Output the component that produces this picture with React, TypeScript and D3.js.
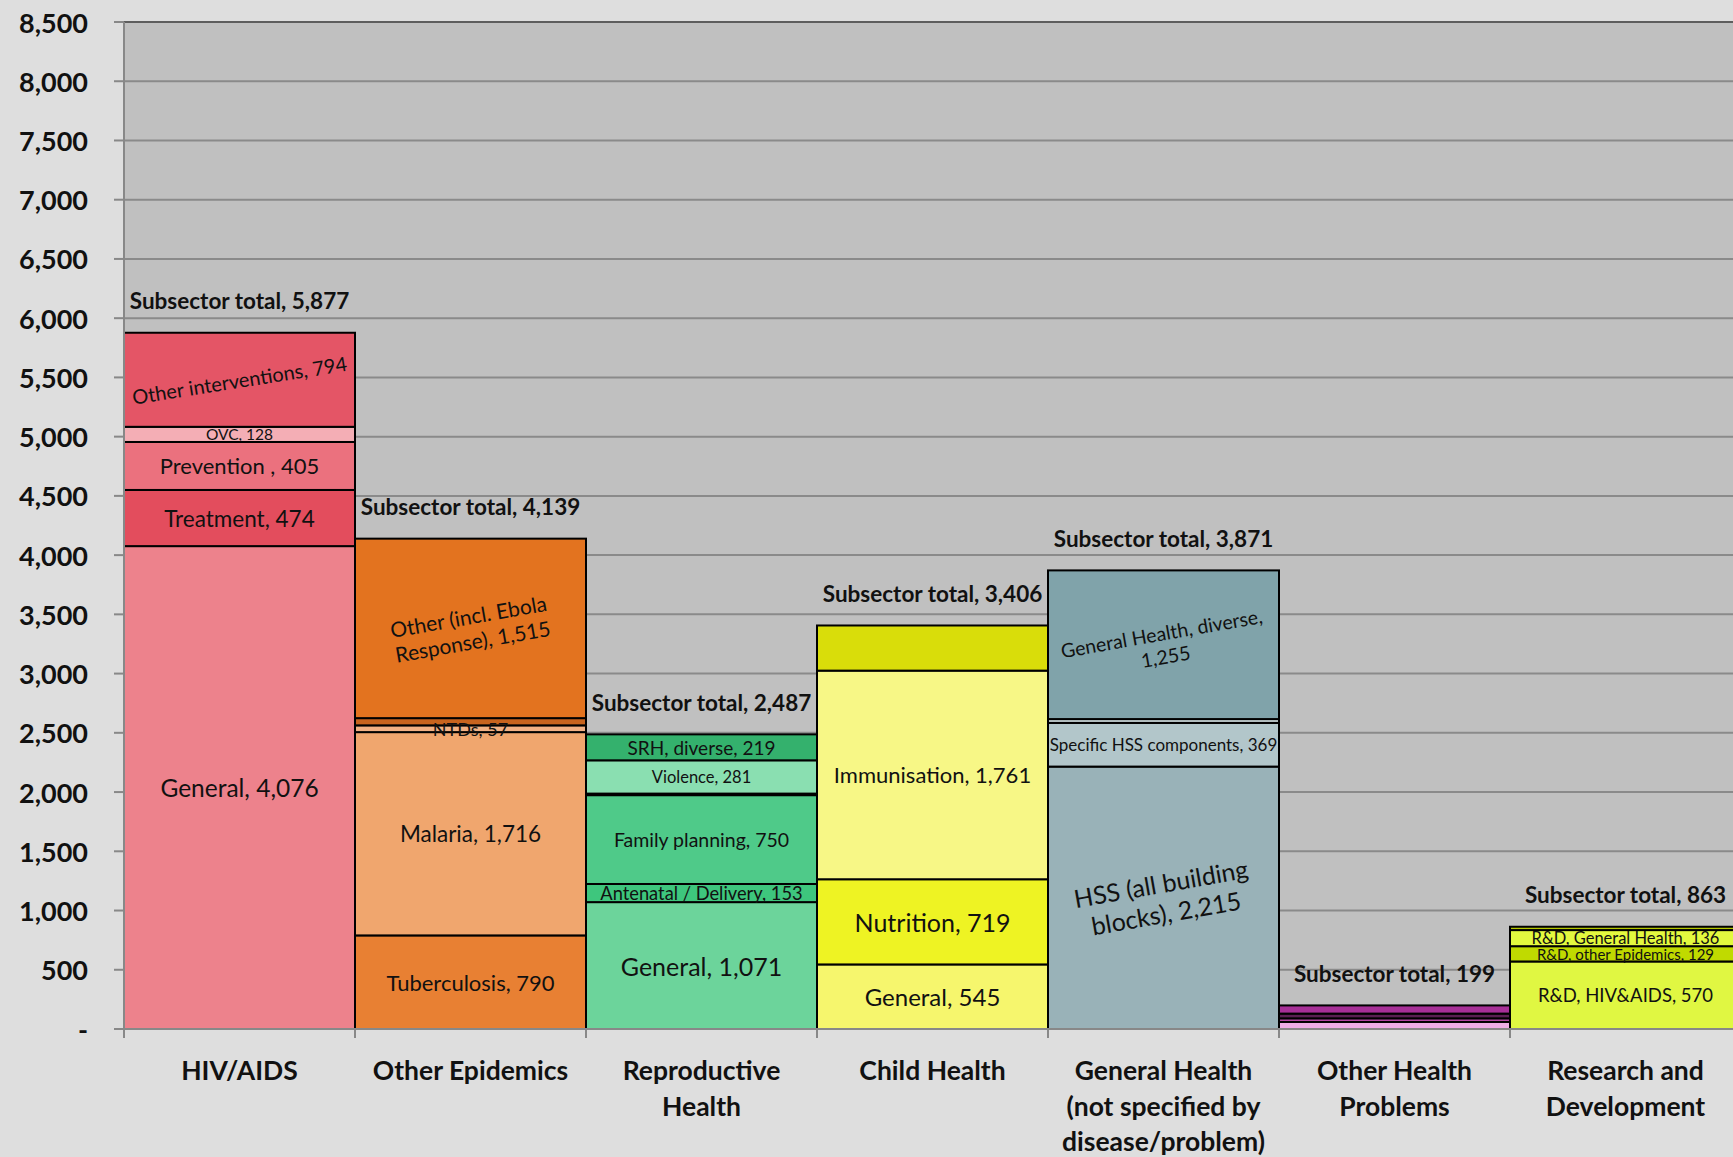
import React from 'react';
import * as d3 from 'd3';

// categories along the x axis
const categories = [
  'HIV/AIDS',
  'Other Epidemics',
  'Reproductive Health',
  'Child Health',
  'General Health (not specified by disease/problem)',
  'Other Health Problems',
  'Research and Development',
];
const categoryLines = [
  ['HIV/AIDS'],
  ['Other Epidemics'],
  ['Reproductive', 'Health'],
  ['Child Health'],
  ['General Health', '(not specified by', 'disease/problem)'],
  ['Other Health', 'Problems'],
  ['Research and', 'Development'],
];
const subsectorTotals = [5877, 4139, 2487, 3406, 3871, 199, 863];

const yTicks = [0, 500, 1000, 1500, 2000, 2500, 3000, 3500, 4000, 4500, 5000, 5500, 6000, 6500, 7000, 7500, 8000, 8500];

// segments per category, bottom to top
const hivValues = [4076, 474, 405, 128, 794];
const hivLabels = ['General, 4,076', 'Treatment, 474', 'Prevention , 405', 'OVC, 128', 'Other interventions, 794'];

const epiValues = [790, 1716, 57, 61, 1515];
const epiLabels = ['Tuberculosis, 790', 'Malaria, 1,716', 'NTDs, 57', '', 'Other (incl. Ebola\nResponse), 1,515'];

const rhValues = [1071, 153, 750, 13, 281, 219];
const rhLabels = ['General, 1,071', 'Antenatal / Delivery, 153', 'Family planning, 750', '', 'Violence, 281', 'SRH, diverse, 219'];

const chValues = [545, 719, 1761, 381];
const chLabels = ['General, 545', 'Nutrition, 719', 'Immunisation, 1,761', ''];

const ghValues = [2215, 369, 32, 1255];
const ghLabels = ['HSS (all building\nblocks), 2,215', 'Specific HSS components, 369', '', 'General Health, diverse,\n1,255'];

const ohpValues = [60, 30, 40, 69];
const ohpLabels = ['', '', '', ''];

const rdValues = [570, 129, 136, 28];
const rdLabels = ['R&D, HIV&AIDS, 570', 'R&D, other Epidemics, 129', 'R&D, General Health, 136', ''];

// colours, same order as the segments
const hivColors = ['#ed828c', '#e34d5d', '#eb717e', '#f4aeb5', '#e45566'];
const epiColors = ['#e88033', '#f0a66e', '#f2b184', '#c8641e', '#e3731f'];
const rhColors = ['#6cd49b', '#3ec67d', '#4fca89', '#2e9c5e', '#8adfb1', '#34b16d'];
const chColors = ['#f6f66d', '#eef323', '#f7f786', '#d9dd0a'];
const ghColors = ['#99b2b8', '#b2c6ca', '#cbd9db', '#80a3aa'];
const ohpColors = ['#eeaee6', '#c64fb5', '#5a1f52', '#a72f97'];
const rdColors = ['#e0f742', '#c0da00', '#e3f93f', '#b5c800'];

// label font size and rotation
const hivFont = [[24.5, 0], [22.5, 0], [22, 0], [15.5, 0], [20, -9]];
const epiFont = [[22, 0], [22.5, 0], [18, 0], [0, 0], [21, -10]];
const rhFont = [[25, 0], [18.3, 0], [19.5, 0], [0, 0], [16.5, 0], [19, 0]];
const chFont = [[24, 0], [25, 0], [22, 0], [0, 0]];
const ghFont = [[25, -10], [17, 0], [0, 0], [19.5, -10]];
const ohpFont = [[0, 0], [0, 0], [0, 0], [0, 0]];
const rdFont = [[18.5, 0], [15, 0], [16.5, 0], [0, 0]];

const groups = [
  { values: hivValues, labels: hivLabels, colors: hivColors, font: hivFont },
  { values: epiValues, labels: epiLabels, colors: epiColors, font: epiFont },
  { values: rhValues, labels: rhLabels, colors: rhColors, font: rhFont },
  { values: chValues, labels: chLabels, colors: chColors, font: chFont },
  { values: ghValues, labels: ghLabels, colors: ghColors, font: ghFont },
  { values: ohpValues, labels: ohpLabels, colors: ohpColors, font: ohpFont },
  { values: rdValues, labels: rdLabels, colors: rdColors, font: rdFont },
];

const width = 1733;
const height = 1157;
const plotLeft = 124;
const plotTop = 22;
const plotBottom = 1029;
const fontFamily = "Lato, Calibri, 'Open Sans', sans-serif";

const App = () => {
  const y = d3.scaleLinear().domain([0, 8500]).range([plotBottom, plotTop]);
  const x = d3.scaleBand().domain(categories).range([plotLeft, plotLeft + 7 * 231]).padding(0);
  const fmt = d3.format(',');
  const plotRight = x.range()[1];

  return (
    <div style={{ position: 'absolute', left: 0, top: 0 }}>
      <svg width={width} height={height} style={{ display: 'block', background: '#dedede' }} fontFamily={fontFamily}>
        <rect x={plotLeft} y={plotTop} width={plotRight - plotLeft} height={plotBottom - plotTop} fill="#c0c0c0" />

        {/* gridlines */}
        {yTicks.filter(t => t > 0).map(t => (
          <line key={'g' + t} x1={plotLeft} x2={plotRight} y1={y(t)} y2={y(t)}
            stroke={t === 8500 ? '#5e5e5e' : '#8a8a8a'} strokeWidth={2} />
        ))}

        {/* stacked bars */}
        {groups.map((g, ci) => {
          const cat = categories[ci];
          const ends = Array.from(d3.cumsum(g.values));
          const x0 = x(cat);
          const bw = x.bandwidth();
          return (
            <g key={cat}>
              {g.values.map((v, i) => {
                const start = i === 0 ? 0 : ends[i - 1];
                return (
                  <rect key={i} x={x0} width={bw} y={y(ends[i])} height={y(start) - y(ends[i])}
                    fill={g.colors[i]} stroke="#000" strokeWidth={2} />
                );
              })}
            </g>
          );
        })}

        {/* segment labels */}
        {groups.map((g, ci) => {
          const cat = categories[ci];
          const ends = Array.from(d3.cumsum(g.values));
          const cx = x(cat) + x.bandwidth() / 2;
          return (
            <g key={'l' + cat}>
              {g.labels.map((lab, i) => {
                if (!lab) return null;
                const start = i === 0 ? 0 : ends[i - 1];
                const cy = y((start + ends[i]) / 2);
                const [size, rot] = g.font[i];
                const lines = lab.split('\n');
                const lh = size * 1.2;
                return (
                  <text key={i} transform={`translate(${cx},${cy}) rotate(${rot})`} textAnchor="middle"
                    fontSize={size} fill="#111">
                    {lines.map((ln, k) => (
                      <tspan key={k} x={0} y={(k - (lines.length - 1) / 2) * lh} dominantBaseline="central">{ln}</tspan>
                    ))}
                  </text>
                );
              })}
            </g>
          );
        })}

        {/* subsector totals */}
        {subsectorTotals.map((t, ci) => (
          <text key={'t' + ci} x={x(categories[ci]) + x.bandwidth() / 2} y={y(t) - 32}
            textAnchor="middle" dominantBaseline="central" fontWeight="bold" fontSize={22.5} fill="#111">
            {`Subsector total, ${fmt(t)}`}
          </text>
        ))}

        {/* y axis */}
        <line x1={plotLeft} x2={plotLeft} y1={plotTop} y2={plotBottom} stroke="#888" strokeWidth={2} />
        {yTicks.map(t => (
          <g key={'y' + t}>
            <line x1={plotLeft - 10} x2={plotLeft} y1={y(t)} y2={y(t)} stroke="#888" strokeWidth={2} />
            <text x={88} y={y(t)} textAnchor="end" dominantBaseline="central" fontWeight="bold" fontSize={27} fill="#111">
              {t === 0 ? '-' : fmt(t)}
            </text>
          </g>
        ))}

        {/* x axis */}
        <line x1={plotLeft} x2={plotRight} y1={plotBottom} y2={plotBottom} stroke="#888" strokeWidth={2} />
        {categories.map((c, ci) => (
          <line key={'xt' + ci} x1={x(c)} x2={x(c)} y1={plotBottom} y2={plotBottom + 9} stroke="#888" strokeWidth={2} />
        ))}
        {categories.map((c, ci) => (
          <text key={'xl' + ci} textAnchor="middle" fontWeight="bold" fontSize={26.5} fill="#111">
            {categoryLines[ci].map((ln, k) => (
              <tspan key={k} x={x(c) + x.bandwidth() / 2} y={1070 + k * 35.5} dominantBaseline="central">{ln}</tspan>
            ))}
          </text>
        ))}
      </svg>
    </div>
  );
};

export default App;
